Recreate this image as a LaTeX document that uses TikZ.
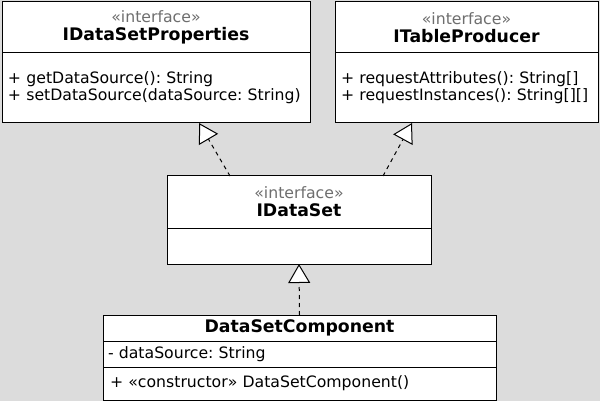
\documentclass[tikz,border=0pt]{standalone}
\usepackage{fontspec}
\setmainfont{DejaVu Sans}
\usetikzlibrary{arrows.meta,positioning}
\definecolor{canvas}{HTML}{DCDCDC}
\definecolor{stereogray}{HTML}{6E6E6E}
\frenchspacing
\tikzset{
  % one compartment of a class box
  classpart/.style={
    draw=black,fill=white,line width=1pt,inner sep=0pt,outer sep=0pt,
    font=\fontsize{15.7}{17}\selectfont
  },
  classhead/.style={classpart,align=center},
  classbody/.style={classpart,align=left,text width=#1,inner xsep=6pt},
  % dashed realization with hollow triangle
  realize/.style={
    draw=black,line width=1pt,dash pattern=on 4pt off 4pt,
    -{Triangle[fill=white,length=19pt,width=22pt]}
  },
}
\newcommand{\stereotype}[1]{{\color{stereogray}«#1»}}
\newcommand{\classname}[1]{{\fontsize{17.3}{19}\selectfont\bfseries #1}}

\begin{document}
\begin{tikzpicture}[x=1pt,y=-1pt]
\fill[canvas] (0,0) rectangle (600,401);
\useasboundingbox (0,0) rectangle (600,401);
% upper interfaces
\node[classhead,minimum width=308,minimum height=51] (prophead) at (156,27.5)
  {\stereotype{interface}\\[1pt]\classname{IDataSetProperties}};
\node[classbody=296pt,minimum height=70,anchor=north] (propbody) at (prophead.south)
  {+ getDataSource(): String\\+ setDataSource(dataSource: String)};
\node[classhead,minimum width=263,minimum height=51] (tabhead) at (466.5,27.5)
  {\stereotype{interface}\\[1pt]\classname{ITableProducer}};
\node[classbody=251pt,minimum height=70,anchor=north] (tabbody) at (tabhead.south)
  {+ requestAttributes(): String[]\\+ requestInstances(): String[][]};
% middle interface
\node[classhead,minimum width=264,minimum height=52] (sethead) at (299,202)
  {\stereotype{interface}\\[1pt]\classname{IDataSet}};
\node[classpart,minimum width=264,minimum height=36,anchor=north] (setbody) at (sethead.south) {};
% component
\node[classhead,minimum width=393,minimum height=26] (comphead) at (299.5,328)
  {\classname{DataSetComponent}};
\node[classbody=383pt,minimum height=26,anchor=north,inner xsep=5pt] (compattr) at (comphead.south)
  {- dataSource: String};
\node[classbody=379pt,minimum height=33,anchor=north,inner xsep=7pt] (compops) at (compattr.south)
  {+ «constructor» DataSetComponent()};
% ends of the realizations
\coordinate (propfoot) at ([xshift=197pt]propbody.south west);
\coordinate (tabfoot) at ([xshift=77pt]tabbody.south west);
\coordinate (setleft) at ([xshift=63pt]sethead.north west);
\coordinate (setright) at ([xshift=-48pt]sethead.north east);
\draw[realize] (setleft) -- (propfoot);
\draw[realize] (setright) -- (tabfoot);
\draw[realize] (comphead.north) -- (setbody.south);
\end{tikzpicture}
\end{document}
